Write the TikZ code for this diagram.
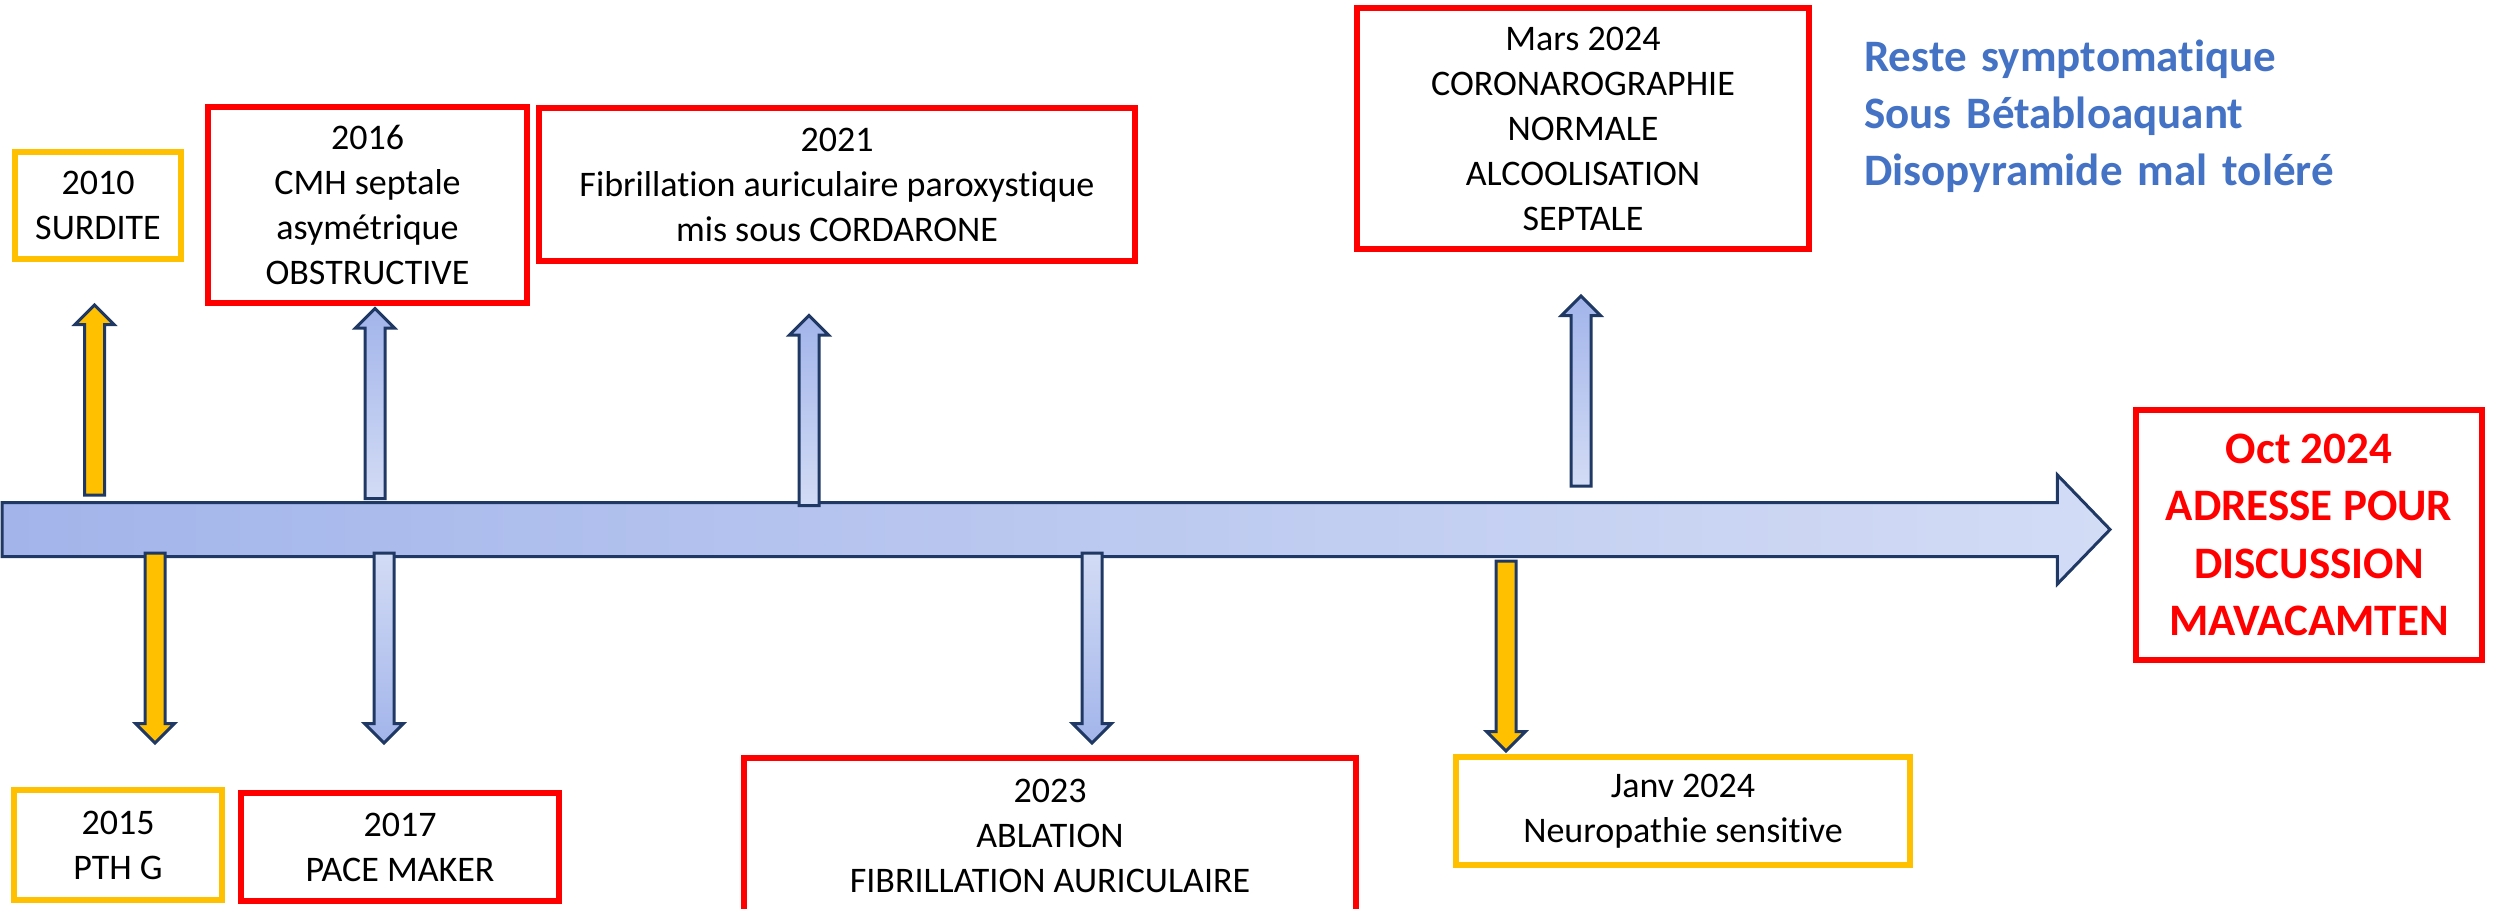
\documentclass[tikz,border=0pt]{standalone}
\usepackage{fontspec}
\setmainfont[Ligatures=NoCommon]{Carlito}
\usetikzlibrary{shapes.arrows}

\definecolor{evred}{HTML}{FF0000}
\definecolor{evorange}{HTML}{FFC000}
\definecolor{evnavy}{HTML}{1F3864}
\definecolor{evblue}{HTML}{4472C4}
\definecolor{arrdark}{HTML}{A2B4EA}
\definecolor{arrlight}{HTML}{D3DCF5}

\begin{document}
\begin{tikzpicture}[x=1pt, y=-1pt,
    redbox/.style={draw=evred, line width=6pt, fill=white, inner sep=0pt,
      align=center, font=\fontsize{36}{45}\selectfont},
    orangebox/.style={redbox, draw=evorange},
    blockarr/.style={single arrow, draw=evnavy, line width=3pt, inner xsep=0pt,
      inner ysep=8.5pt, minimum height=190pt, single arrow head extend=9.5pt,
      single arrow tip angle=90},
    blueup/.style={blockarr, rotate=90, top color=arrdark, bottom color=arrlight},
    bluedown/.style={blockarr, rotate=-90, top color=arrlight, bottom color=arrdark},
    orangeup/.style={blockarr, rotate=90, fill=evorange},
    orangedown/.style={blockarr, rotate=-90, fill=evorange}]

  \useasboundingbox (0,0) rectangle (2501,908);
  \clip (0,0) rectangle (2501,908);

  %% time line
  \node[single arrow, draw=evnavy, line width=3pt, inner xsep=0pt, inner ysep=25.5pt,
    minimum height=2108pt, single arrow head extend=27.5pt,
    single arrow tip angle=92, left color=arrdark, right color=arrlight]
    (timeline) at (1043, 529.5) {};

  %% events above
  \node[orangebox, minimum width=166pt, minimum height=107pt] (surdite) at (98, 205.5)
    {2010\\SURDITE};
  \node[redbox, minimum width=319pt, minimum height=196pt] (cmh) at (367.5, 205)
    {2016\\CMH septale\\asymétrique\\OBSTRUCTIVE};
  \node[redbox, minimum width=596pt, minimum height=153pt] (fibpar) at (837, 184.5)
    {2021\\Fibrillation auriculaire paroxystique\\mis sous CORDARONE};
  \node[redbox, minimum width=452pt, minimum height=241pt] (coro) at (1583, 128.5)
    {Mars 2024\\CORONAROGRAPHIE\\NORMALE\\ALCOOLISATION\\SEPTALE};

  \node[orangeup] (up10) at (94.5, 405) {};
  \node[blueup] (up16) at (375, 408.5) {};
  \node[blueup] (up21) at (809, 415.5) {};
  \node[blueup] (up24) at (1581, 396) {};

  %% events below
  \node[orangedown] (dn15) at (155, 643) {};
  \node[bluedown] (dn17) at (384, 643) {};
  \node[bluedown] (dn23) at (1092, 643) {};
  \node[orangedown] (dn24) at (1506, 651) {};

  \node[orangebox, minimum width=208pt, minimum height=110pt] (pth) at (118, 845)
    {2015\\PTH G};
  \node[redbox, minimum width=318pt, minimum height=108pt] (pace) at (400, 847)
    {2017\\PACE MAKER};
  \node[redbox, minimum width=612pt, minimum height=155pt] (ablat) at (1050, 835.5)
    {2023\\ABLATION\\FIBRILLATION AURICULAIRE};
  \node[orangebox, minimum width=454pt, minimum height=108pt] (neuro) at (1683, 811)
    {Janv 2024\\Neuropathie sensitive};

  %% outcome
  \node[redbox, minimum width=346pt, minimum height=250pt, text=evred,
    font=\fontsize{45}{57.5}\selectfont\bfseries] (mava) at (2309, 535)
    {Oct 2024\\ADRESSE POUR\\DISCUSSION\\MAVACAMTEN};

  \node[anchor=base west, inner sep=0pt, text width=600pt, align=left, text=evblue,
    font=\fontsize{45}{57}\selectfont\bfseries] (suivi) at (1864, 71)
    {Reste symptomatique\\Sous Bétabloaquant\\Disopyramide mal toléré};
\end{tikzpicture}
\end{document}
